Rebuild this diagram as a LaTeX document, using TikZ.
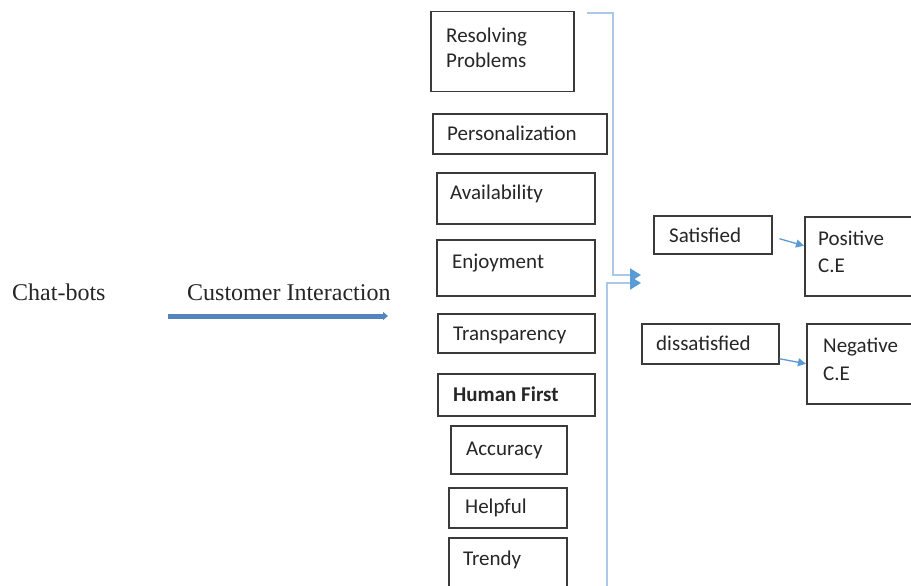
\documentclass[tikz,border=0pt]{standalone}
\usepackage{fontspec}
\setmainfont{Carlito}
\newfontfamily\tnr{Liberation Serif}
\usetikzlibrary{arrows.meta}
\definecolor{boxc}{HTML}{3A3A3A}
\definecolor{txtc}{HTML}{262626}
\definecolor{lineblue}{HTML}{A9C8EA}
\definecolor{tipblue}{HTML}{5B9BD5}
\definecolor{mainblue}{HTML}{5585BE}
\begin{document}
\begin{tikzpicture}[x=1pt,y=-1pt,
  box/.style={draw=boxc, line width=1.5pt, inner sep=0pt, anchor=north west},
  lbl/.style={text=txtc, inner sep=0pt, anchor=base west, font=\fontsize{21}{25}\selectfont},
  serif/.style={text=black!85, inner sep=0pt, anchor=base west, font=\tnr\fontsize{24}{28}\selectfont},
  feed/.style={draw=lineblue, line width=2pt},
  feedtip/.style={feed, -{Triangle[length=11pt,width=13pt,color=tipblue]}},
  small/.style={draw=tipblue, line width=1.3pt, -{Triangle[length=8pt,width=8pt]}},
  mainarrow/.style={draw=mainblue, line width=5pt, -{Triangle[length=5pt,width=8pt]}}
]
\clip (0,0) rectangle (911,586);
\fill[white] (0,0) rectangle (911,586);

% left texts
\node[serif] (chat) at (12,300) {Chat-bots};
\node[serif] (cust) at (187,300) {Customer Interaction};
\coordinate (ma) at (168,316);
\coordinate (mb) at (388,316);
\draw[mainarrow] (ma) -- (mb);

% boxes column
\node[box, minimum width=143pt, minimum height=80pt] (res) at (430,11) {};
\node[box, minimum width=174pt, minimum height=40pt] (per) at (432,113) {};
\node[box, minimum width=158pt, minimum height=51pt] (ava) at (436,172) {};
\node[box, minimum width=158pt, minimum height=56pt] (enj) at (436,239) {};
\node[box, minimum width=157pt, minimum height=39pt] (tra) at (437,313) {};
\node[box, minimum width=157pt, minimum height=42pt] (hum) at (437,373) {};
\node[box, minimum width=116pt, minimum height=48pt] (acc) at (450,425) {};
\node[box, minimum width=118pt, minimum height=40pt] (hel) at (448,487) {};
\node[box, minimum width=118pt, minimum height=70pt] (tre) at (448,537) {};

\node[lbl] (resA) at (446,43) {Resolving};
\node[lbl] (resB) at (446,68) {Problems};
\node[lbl] (perT) at (447,140) {Personalization};
\node[lbl] (avaT) at (450,199) {Availability};
\node[lbl] (enjT) at (452,268) {Enjoyment};
\node[lbl] (traT) at (453,340) {Transparency};
\node[lbl, font=\fontsize{21}{25}\selectfont\bfseries] (humT) at (453,401) {Human First};
\node[lbl] (accT) at (466,455) {Accuracy};
\node[lbl] (helT) at (465,513) {Helpful};
\node[lbl] (treT) at (463,565) {Trendy};

% right boxes
\node[box, minimum width=118pt, minimum height=38pt] (sat) at (653,215) {};
\node[box, minimum width=130pt, minimum height=79pt] (pos) at (804,216) {};
\node[box, minimum width=137pt, minimum height=40pt] (dis) at (641,323) {};
\node[box, minimum width=130pt, minimum height=80pt] (neg) at (806,323) {};

\node[lbl] (satT) at (669,242) {Satisfied};
\node[lbl] (posA) at (818,245) {Positive};
\node[lbl] (posB) at (818,272) {C.E};
\node[lbl] (disT) at (656,350) {dissatisfied};
\node[lbl] (negA) at (823,352) {Negative};
\node[lbl] (negB) at (823,380) {C.E};

% feed connectors
\coordinate (topS) at (587,13);
\coordinate (tipA) at (641,275);
\coordinate (botS) at (607,590);
\coordinate (tipB) at (641,283);
\draw[feedtip] (topS) -- (613,13) -- (613,275) -- (tipA);
\draw[feedtip] (botS) -- (607,283) -- (tipB);

% small arrows
\draw[small] ([shift={(7,4)}]sat.east) -- ([shift={(0,-10.5)}]pos.west);
\draw[small] ([shift={(0,15)}]dis.east) -- (neg.west);
\end{tikzpicture}
\end{document}
